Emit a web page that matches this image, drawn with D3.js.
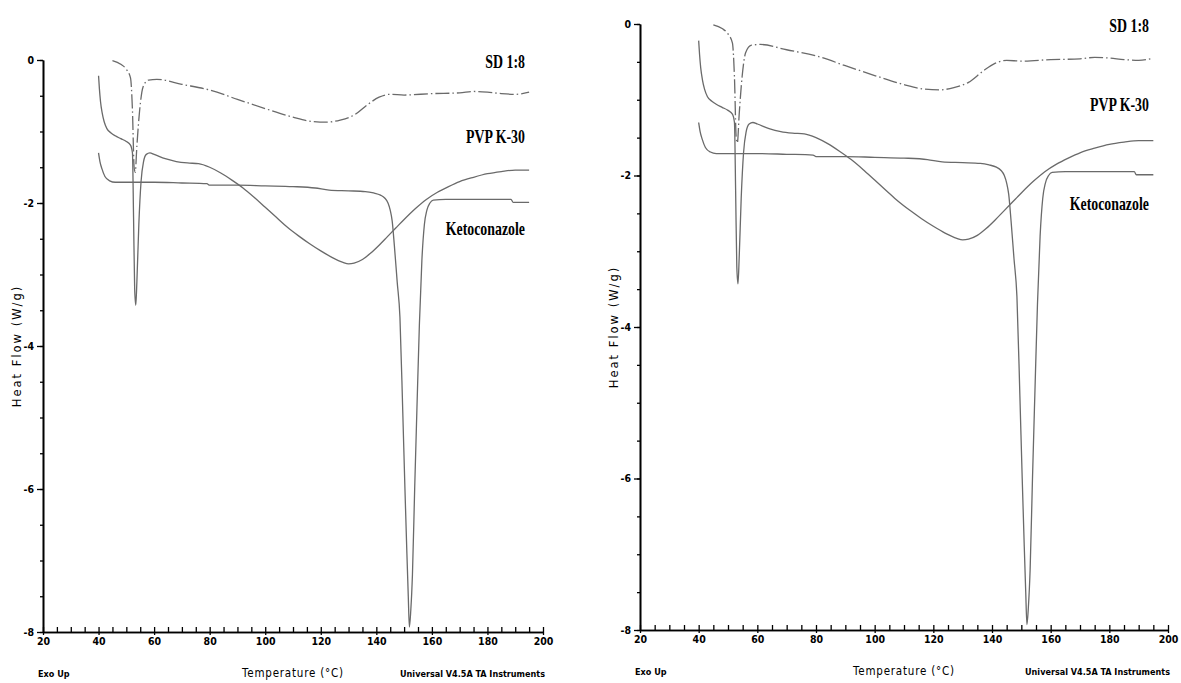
<!DOCTYPE html>
<html>
<head>
<meta charset="utf-8">
<script src="https://cdn.jsdelivr.net/npm/d3@7"></script>
<style>
  body { margin: 0; background: #fff; }
  svg { display: block; background: #fff; }
</style>
</head>
<body>
<svg id="chart" width="1181" height="683"></svg>
<script>
// DSC thermograms, heat flow (W/g) against temperature (°C)
const xTicks = [20, 40, 60, 80, 100, 120, 140, 160, 180, 200];
const yTicks = [0, -2, -4, -6, -8];
const seriesNames = ["SD 1:8", "PVP K-30", "Ketoconazole"];

const sdTemp = [45, 48, 50, 51.5, 52.2, 52.8, 53.2, 53.8, 54.8, 56, 58, 61, 70, 80, 90, 100, 110, 117, 122, 127, 132, 137, 141, 145, 150, 160, 170, 175, 180, 185, 190, 195];
const sdFlow = [-0.01, -0.06, -0.13, -0.25, -0.7, -1.5, -1.57, -1.2, -0.7, -0.38, -0.28, -0.27, -0.34, -0.42, -0.55, -0.68, -0.8, -0.86, -0.87, -0.84, -0.77, -0.62, -0.52, -0.48, -0.49, -0.47, -0.46, -0.44, -0.45, -0.47, -0.48, -0.45];

const pvpTemp = [40, 40.3, 40.7, 41.3, 42, 43, 44.5, 46, 48, 50, 51.5, 52.2, 52.6, 53, 53.4, 53.8, 54.5, 55.3, 56.2, 57.2, 58.5, 60, 64, 68, 72, 76, 80, 84, 88, 92, 96, 100, 104, 108, 112, 116, 120, 124, 128, 130, 132, 135, 138, 141, 144, 147, 150, 154, 158, 162, 166, 170, 175, 180, 185, 190, 195];
const pvpFlow = [-0.22, -0.4, -0.58, -0.74, -0.86, -0.96, -1.02, -1.06, -1.1, -1.14, -1.19, -1.3, -2.2, -3.2, -3.43, -3.1, -2.3, -1.7, -1.42, -1.32, -1.3, -1.32, -1.38, -1.42, -1.44, -1.45, -1.5, -1.58, -1.68, -1.79, -1.92, -2.06, -2.2, -2.34, -2.46, -2.57, -2.67, -2.76, -2.83, -2.85, -2.84, -2.79, -2.7, -2.59, -2.47, -2.35, -2.23, -2.08, -1.95, -1.85, -1.77, -1.7, -1.64, -1.59, -1.56, -1.54, -1.54];

const ketoTemp = [40, 40.5, 41.2, 42.3, 44, 46, 50, 60, 70, 79, 80, 90, 100, 110, 118, 123, 130, 136, 139, 141.5, 143, 144.2, 145, 145.7, 146.5, 147.5, 148.5, 149.5, 150.3, 151, 151.5, 151.9, 152.4, 153, 153.8, 154.6, 155.5, 156.4, 157.3, 158.2, 159.3, 160.5, 165, 170, 180, 188.5, 189.2, 195];
const ketoFlow = [-1.3, -1.42, -1.52, -1.63, -1.69, -1.71, -1.71, -1.71, -1.72, -1.73, -1.75, -1.75, -1.76, -1.77, -1.79, -1.82, -1.83, -1.84, -1.86, -1.89, -1.93, -2.0, -2.1, -2.25, -2.6, -3.1, -3.6, -4.9, -6.0, -6.9, -7.5, -7.93, -7.7, -7.2, -6.0, -4.9, -3.7, -2.8, -2.3, -2.1, -2.0, -1.96, -1.95, -1.95, -1.95, -1.95, -1.99, -1.99];

const series = [
  { name: seriesNames[0], temp: sdTemp, flow: sdFlow, dash: "14,3,1.5,3" },
  { name: seriesNames[1], temp: pvpTemp, flow: pvpFlow, dash: null },
  { name: seriesNames[2], temp: ketoTemp, flow: ketoFlow, dash: null }
];
// where the curve names sit, in data units (right edge, centre)
const labelFlow = [-0.03, -1.07, -2.37];

// the two copies of the plot, in page pixels
const panels = [
  { left: 43, right: 543, top: 60, bottom: 632 },
  { left: 640, right: 1168, top: 24, bottom: 630 }
];

const svg = d3.select("#chart");
const lineColor = "#6a6a6a";
const tickFont = "'Liberation Sans Narrow', 'DejaVu Sans Condensed', sans-serif";

function drawPanel(p) {
  const x = d3.scaleLinear().domain([20, 200]).range([p.left, p.right]);
  const y = d3.scaleLinear().domain([0, -8]).range([p.top, p.bottom]);
  const g = svg.append("g");

  // x axis: minor ticks pointing up, major ones crossing the line
  const xMinor = g.append("g")
    .attr("transform", `translate(0,${p.bottom})`)
    .call(d3.axisBottom(x).tickValues(d3.range(20, 201, 5)).tickSizeInner(-5).tickSizeOuter(0).tickFormat(""));
  const xMajor = g.append("g")
    .attr("transform", `translate(0,${p.bottom})`)
    .call(d3.axisBottom(x).tickValues(xTicks).tickSizeInner(3).tickSizeOuter(0).tickPadding(3).tickFormat(d => String(d)));

  // y axis: ticks outside, minor every 0.5
  const yMinor = g.append("g")
    .attr("transform", `translate(${p.left},0)`)
    .call(d3.axisLeft(y).tickValues(d3.range(0, -8.01, -0.5)).tickSizeInner(3).tickSizeOuter(0).tickFormat(""));
  const yMajor = g.append("g")
    .attr("transform", `translate(${p.left},0)`)
    .call(d3.axisLeft(y).tickValues(yTicks).tickSizeInner(6).tickSizeOuter(0).tickPadding(3).tickFormat(d => String(d)));

  [xMinor, xMajor, yMinor, yMajor].forEach(a => {
    a.select(".domain").attr("stroke", "#000").attr("stroke-width", 1.6);
    a.selectAll(".tick line").attr("stroke", "#000").attr("stroke-width", 1.3);
    a.selectAll(".tick text")
      .attr("fill", "#000")
      .style("font-family", tickFont)
      .style("font-weight", "bold")
      .style("font-size", "10.5px");
  });

  // curves
  const line = d3.line()
    .x(d => x(d[0]))
    .y(d => y(d[1]))
    .curve(d3.curveMonotoneX);

  series.forEach(s => {
    g.append("path")
      .datum(s.temp.map((t, i) => [t, s.flow[i]]))
      .attr("d", line)
      .attr("fill", "none")
      .attr("stroke", lineColor)
      .attr("stroke-width", 1.3)
      .attr("stroke-dasharray", s.dash);
  });

  // curve names
  series.forEach((s, i) => {
    g.append("text")
      .attr("transform", `translate(${x(193.5)},${y(labelFlow[i]) + 6}) scale(0.71,1)`)
      .attr("text-anchor", "end")
      .style("font-family", "'Liberation Serif', 'Times New Roman', serif")
      .style("font-weight", "bold")
      .style("font-size", "19.5px")
      .attr("fill", "#000")
      .text(s.name);
  });

  // axis titles and footer
  g.append("text")
    .attr("transform", `translate(${p.left - 26},${(p.top + p.bottom) / 2}) rotate(-90)`)
    .attr("text-anchor", "middle")
    .attr("dy", "0.35em")
    .style("font-family", "'DejaVu Sans', sans-serif")
    .style("font-size", "11.5px")
    .style("letter-spacing", "2px")
    .text("Heat Flow (W/g)");

  g.append("text")
    .attr("x", (p.left + p.right) / 2)
    .attr("y", p.bottom + 45)
    .attr("text-anchor", "middle")
    .style("font-family", tickFont)
    .style("font-size", "11.5px")
    .style("letter-spacing", "0.8px")
    .text("Temperature (°C)");

  g.append("text")
    .attr("x", p.left - 5)
    .attr("y", p.bottom + 45)
    .style("font-family", tickFont)
    .style("font-weight", "bold")
    .style("font-size", "9px")
    .text("Exo Up");

  g.append("text")
    .attr("x", p.right + 2)
    .attr("y", p.bottom + 45)
    .attr("text-anchor", "end")
    .style("font-family", tickFont)
    .style("font-weight", "bold")
    .style("font-size", "9px")
    .text("Universal V4.5A TA Instruments");
}

panels.forEach(drawPanel);
</script>
</body>
</html>
